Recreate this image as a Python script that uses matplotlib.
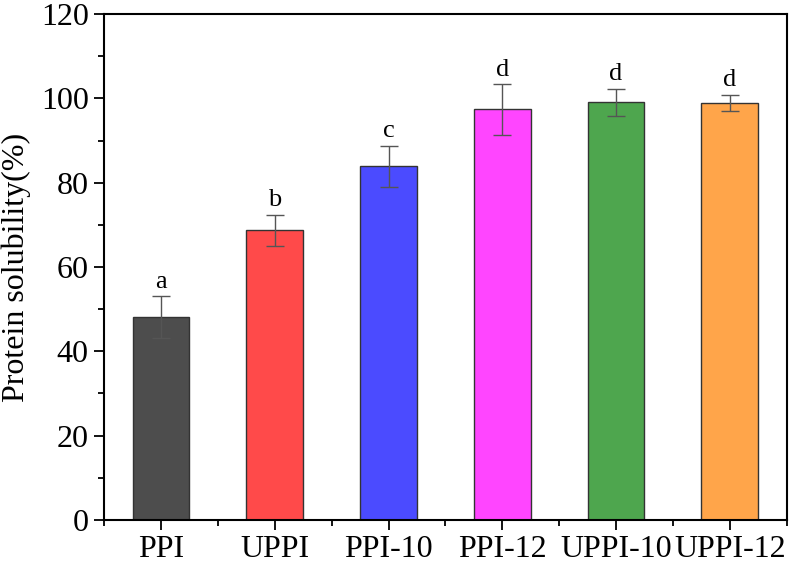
import matplotlib
matplotlib.use("Agg")
import matplotlib.pyplot as plt
from matplotlib.ticker import MultipleLocator

samples = ["PPI", "UPPI", "PPI-10", "PPI-12", "UPPI-10", "UPPI-12"]
solubility = [48.1, 68.7, 83.9, 97.4, 99.1, 98.9]
sd = [5.0, 3.7, 4.9, 6.0, 3.2, 2.0]
letters = ["a", "b", "c", "d", "d", "d"]
colors = ["#4d4d4d", "#ff4a4a", "#4b4bff", "#ff45ff", "#4ea64e", "#ffa54a"]

plt.rcParams['font.family'] = ['Liberation Serif', 'DejaVu Serif']

fig = plt.figure(figsize=(7.89, 5.65), dpi=100)
ax = fig.add_axes([0.132, 0.080, 0.865, 0.895])

x = list(range(len(samples)))
ax.bar(x, solubility, width=0.5, color=colors, edgecolor="#333333", linewidth=1.0)
ax.errorbar(x, solubility, yerr=sd, fmt="none", ecolor="#555555",
            elinewidth=1.0, capsize=6.5, capthick=1.0)

for xi, v, e, lab in zip(x, solubility, sd, letters):
    ax.text(xi, v + e + 0.8, lab, ha="center", va="bottom", fontsize=19)

ax.set_xlim(-0.5, 5.5)
ax.set_ylim(0, 120)
ax.set_xticks(x)
ax.set_xticklabels(samples, fontsize=23)
ax.xaxis.set_minor_locator(MultipleLocator(1, offset=0.5))
ax.yaxis.set_major_locator(MultipleLocator(20))
ax.yaxis.set_minor_locator(MultipleLocator(10))
ax.tick_params(axis="both", which="major", direction="out", length=7, width=1.3,
               labelsize=23, top=False, right=False, pad=4)
ax.tick_params(axis="both", which="minor", direction="out", length=4, width=1.3,
               top=False, right=False)
ax.set_ylabel("Protein solubility(%)", fontsize=23)
ax.yaxis.set_label_coords(-0.107, 0.5)
for s in ax.spines.values():
    s.set_linewidth(1.5)

fig.savefig("out.png", dpi=100)
